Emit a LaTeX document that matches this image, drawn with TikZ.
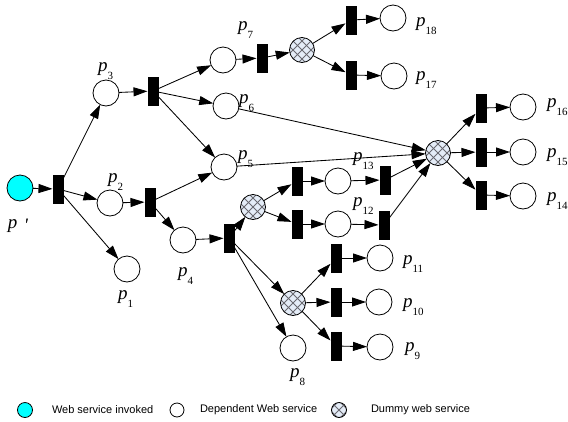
\documentclass[tikz,border=0pt]{standalone}
\usepackage{fontspec}
\setmainfont{Liberation Serif}
\setsansfont{Liberation Sans}
\usetikzlibrary{arrows.meta}
\definecolor{hatchbg}{RGB}{228,236,247}
\definecolor{hatchln}{RGB}{105,105,112}
\definecolor{invoked}{RGB}{0,255,255}

% place label: italic p with a low subscript
\newcommand{\plab}[1]{\textit{p}\raisebox{-8pt}{\fontsize{11}{11}\selectfont #1}}

\begin{document}
\begin{tikzpicture}[x=1pt,y=-1pt,
  every node/.style={inner sep=0pt, outer sep=0pt},
  place/.style={circle, draw, line width=0.8pt, fill=white, minimum size=26pt},
  invk/.style={place, fill=invoked},
  dummy/.style={circle, draw, line width=0.8pt, fill=hatchbg, minimum size=25pt,
    path picture={
      \foreach \k in {-18,-9,0,9,18} {
        \draw[hatchln, line width=0.9pt] ([xshift=\k pt]path picture bounding box.center) ++(-16pt,-16pt) -- ++(32pt,32pt);
        \draw[hatchln, line width=0.9pt] ([xshift=\k pt]path picture bounding box.center) ++(-16pt,16pt) -- ++(32pt,-32pt);
      }}},
  trans/.style={rectangle, fill=black, minimum width=11pt, minimum height=29pt},
  arc/.style={line width=0.85pt, -{Triangle[length=14pt,width=9pt]}},
  plabel/.style={anchor=base west, font=\fontsize{19}{19}\selectfont},
  legend/.style={anchor=west, font=\sffamily\fontsize{11}{13}\selectfont}
]
\useasboundingbox (0,0) rectangle (568,421);

% places
\node[invk]  (pp)  at (20,188) {};
\node[place] (p3)  at (106,93) {};
\node[place] (p2)  at (110,203) {};
\node[place] (p1)  at (127,269) {};
\node[place] (q7)  at (223,60) {};
\node[place] (p6)  at (226,106) {};
\node[place] (p5)  at (224,167) {};
\node[place] (p4)  at (183,240) {};
\node[place] (p18) at (393,18) {};
\node[place] (p17) at (394,76) {};
\node[place] (p16) at (523,107) {};
\node[place] (p15) at (523,152) {};
\node[place] (p14) at (523,196) {};
\node[place] (p13) at (338,181) {};
\node[place] (p12) at (338,224) {};
\node[place] (p11) at (380,258) {};
\node[place] (p10) at (379,302) {};
\node[place] (p9)  at (380,347) {};
\node[place] (p8)  at (293,348) {};

% dummy places
\node[dummy] (d1) at (302,50) {};
\node[dummy] (d2) at (438,153) {};
\node[dummy] (d3) at (253,207) {};
\node[dummy] (d4) at (293,303) {};

% transitions
\node[trans] (t0)   at (58,189) {};
\node[trans] (ta)   at (153,91) {};
\node[trans] (tb)   at (150,202) {};
\node[trans] (t4)   at (229,238) {};
\node[trans] (t7)   at (262,58) {};
\node[trans] (t18)  at (351,20) {};
\node[trans] (t17)  at (351,75) {};
\node[trans] (t16)  at (481,108) {};
\node[trans] (t15)  at (481,152) {};
\node[trans] (t14)  at (481,195) {};
\node[trans] (t13a) at (297,181) {};
\node[trans] (t13b) at (385,180) {};
\node[trans] (t12a) at (297,224) {};
\node[trans] (t12b) at (384,225) {};
\node[trans] (t11)  at (336,258) {};
\node[trans] (t10)  at (336,302) {};
\node[trans] (t9)   at (336,346) {};

% arcs
\draw[arc] (pp) -- (t0);
\draw[arc] (t0) -- (p3);
\draw[arc] (t0) -- (p2);
\draw[arc] (t0) -- (p1);
\draw[arc] (p3) -- (ta);
\draw[arc] (ta) -- (q7);
\draw[arc] (ta) -- (p6);
\draw[arc] (ta) -- (p5);
\draw[arc] (p2) -- (tb);
\draw[arc] (tb) -- (p5);
\draw[arc] (tb) -- (p4);
\draw[arc] (p4) -- (t4);
\draw[arc] (t4) -- (d3);
\draw[arc] (t4) -- (d4);
\draw[arc] (t4) -- (p8);
\draw[arc] (q7) -- (t7);
\draw[arc] (t7) -- (d1);
\draw[arc] (d1) -- (t18);
\draw[arc] (d1) -- (t17);
\draw[arc] (t18) -- (p18);
\draw[arc] (t17) -- (p17);
\draw[arc] (p6) -- (d2);
\draw[arc] (p5) -- (d2);
\draw[arc] (t13b) -- (d2);
\draw[arc] (t12b) -- (d2);
\draw[arc] (d2) -- (t16);
\draw[arc] (d2) -- (t15);
\draw[arc] (d2) -- (t14);
\draw[arc] (t16) -- (p16);
\draw[arc] (t15) -- (p15);
\draw[arc] (t14) -- (p14);
\draw[arc] (d3) -- (t13a);
\draw[arc] (d3) -- (t12a);
\draw[arc] (t13a) -- (p13);
\draw[arc] (p13) -- (t13b);
\draw[arc] (t12a) -- (p12);
\draw[arc] (p12) -- (t12b);
\draw[arc] (d4) -- (t11);
\draw[arc] (d4) -- (t10);
\draw[arc] (d4) -- (t9);
\draw[arc] (t11) -- (p11);
\draw[arc] (t10) -- (p10);
\draw[arc] (t9) -- (p9);

% labels
\node[plabel] (lpp)  at (8,228)   {\textit{p}\,\,\raisebox{-3pt}{\textit{\textquotesingle}}};
\node[plabel] (lp1)  at (118,299) {\plab{1}};
\node[plabel] (lp2)  at (108,182) {\plab{2}};
\node[plabel] (lp3)  at (98,71)   {\plab{3}};
\node[plabel] (lp4)  at (178,276) {\plab{4}};
\node[plabel] (lp5)  at (238,159) {\plab{5}};
\node[plabel] (lp6)  at (239,103) {\plab{6}};
\node[plabel] (lp7)  at (238,30)  {\plab{7}};
\node[plabel] (lp8)  at (290,377) {\plab{8}};
\node[plabel] (lp9)  at (405,351) {\plab{9}};
\node[plabel] (lp10) at (403,307) {\plab{10}};
\node[plabel] (lp11) at (403,264) {\plab{11}};
\node[plabel] (lp12) at (353,206) {\plab{12}};
\node[plabel] (lp13) at (353,161) {\plab{13}};
\node[plabel] (lp14) at (547,201) {\plab{14}};
\node[plabel] (lp15) at (547,157) {\plab{15}};
\node[plabel] (lp16) at (547,107) {\plab{16}};
\node[plabel] (lp17) at (416,80)  {\plab{17}};
\node[plabel] (lp18) at (416,26)  {\plab{18}};

% legend
\node[invk, minimum size=15pt]  (k1) at (25,410) {};
\node[legend] (k1t) at (52,410) {Web service invoked};
\node[place, minimum size=14pt] (k2) at (177,410) {};
\node[legend] (k2t) at (200,410) {Dependent Web service};
\node[dummy, minimum size=15pt] (k3) at (339,410) {};
\node[legend] (k3t) at (371,410) {Dummy web service};
\end{tikzpicture}
\end{document}
